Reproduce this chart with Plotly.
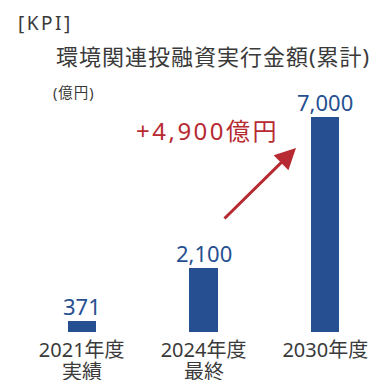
import plotly.graph_objects as go

# Cumulative environment-related investment and financing (100 million yen)
year_labels = ["2021年度", "2024年度", "2030年度"]
sub_labels = ["実績", "最終", ""]
values = [371, 2100, 7000]
value_labels = ["371", "2,100", "7,000"]
increase_label = "+4,900億円"

BLUE = "#264f91"
RED = "#b72a31"
DARK = "#3a3a3a"
FONT = "Noto Sans, Noto Sans CJK JP, sans-serif"

W, H = 376, 380
L, R, T, B = 33, 2, 117, 48
PW, PH = W - L - R, H - T - B


def px_x(px):
    return (px - L) / PW


def px_y(py):
    return (H - B - py) / PH


x_pos = list(range(len(year_labels)))

fig = go.Figure(
    go.Bar(
        x=x_pos,
        y=values,
        width=0.23,
        marker=dict(color=BLUE, line=dict(width=0)),
        hoverinfo="skip",
    )
)

annotations = []
for xi, v, lab in zip(x_pos, values, value_labels):
    annotations.append(dict(
        x=xi, y=v, xref="x", yref="y", text=lab, showarrow=False,
        yanchor="bottom", yshift=-2,
        font=dict(family=FONT, size=22, color=BLUE),
    ))

# second line under the fiscal-year tick labels
for xi, sub in zip(x_pos, sub_labels):
    if sub:
        annotations.append(dict(
            x=xi, y=px_y(371), xref="x", yref="paper", text=sub,
            showarrow=False, xanchor="center", yanchor="middle",
            font=dict(family=FONT, size=20, color=DARK),
        ))

annotations += [
    dict(x=px_x(16), y=px_y(23), xref="paper", yref="paper",
         text="<span style='letter-spacing:2.5px'>[KPI]</span>", showarrow=False,
         xanchor="left", yanchor="middle",
         font=dict(family=FONT, size=19, color=DARK)),
    dict(x=px_x(54), y=px_y(56), xref="paper", yref="paper",
         text="<span style='letter-spacing:1px'>環境関連投融資実行金額(累計)</span>",
         showarrow=False, xanchor="left", yanchor="middle",
         font=dict(family=FONT, size=22, color=DARK)),
    dict(x=px_x(51), y=px_y(92), xref="paper", yref="paper",
         text="<span style='letter-spacing:1px'>(億円)</span>", showarrow=False,
         xanchor="left", yanchor="middle",
         font=dict(family=FONT, size=14.5, color=DARK)),
    dict(x=px_x(207), y=px_y(130), xref="paper", yref="paper",
         text="<span style='letter-spacing:2.5px'>" + increase_label + "</span>",
         showarrow=False, xanchor="center", yanchor="middle",
         font=dict(family=FONT, size=24, color=RED)),
    # growth arrow pointing toward the 2030 bar
    dict(x=px_x(296), y=px_y(148), xref="paper", yref="paper",
         ax=-73, ay=72, axref="pixel", ayref="pixel",
         text="", showarrow=True, arrowhead=2, arrowsize=1.4,
         arrowwidth=3, arrowcolor=RED),
]

fig.update_layout(
    width=W, height=H,
    margin=dict(l=L, r=R, t=T, b=B, pad=0, autoexpand=False),
    paper_bgcolor="white", plot_bgcolor="white",
    showlegend=False,
    bargap=0,
    annotations=annotations,
    xaxis=dict(
        range=[-0.4, 2.4], tickvals=x_pos, ticktext=year_labels,
        showgrid=False, zeroline=False, showline=False, ticks="",
        tickfont=dict(family=FONT, size=20, color=DARK),
        ticklabelstandoff=4,
        automargin=False, fixedrange=True,
    ),
    yaxis=dict(
        range=[0, 7000], visible=False, showgrid=False, zeroline=False,
        automargin=False, fixedrange=True,
    ),
)

fig.write_html("out.html")
